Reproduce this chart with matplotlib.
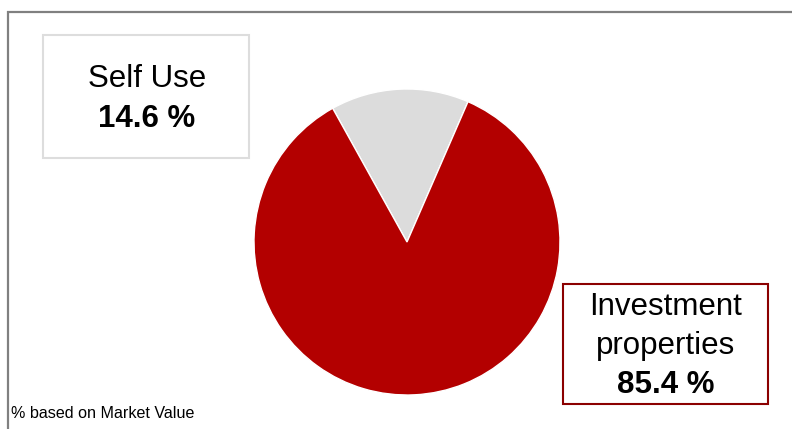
import matplotlib.pyplot as plt
from matplotlib.patches import Rectangle
from matplotlib.lines import Line2D

labels = ["Self Use", "Investment", "properties"]
shares = [14.6, 85.4]
colors = ["#dcdcdc", "#b30000"]
footnote = "% based on Market Value"

W, H = 792, 429
fig = plt.figure(figsize=(W / 100, H / 100), dpi=100)
plt.rcParams["font.family"] = ["Liberation Sans", "DejaVu Sans"]


def fx(px):
    return px / W


def fy(py):
    return 1 - py / H


# outer frame (top and left edges visible)
fig.add_artist(Line2D([fx(7.5), fx(7.5)], [fy(11), 0], color="#808080", lw=1.6,
                      solid_capstyle="butt"))
fig.add_artist(Line2D([fx(7), 1], [fy(11.5), fy(11.5)], color="#808080", lw=1.6,
                      solid_capstyle="butt"))

# pie
cx, cy, r = 407, 242, 153
ax = fig.add_axes([fx(cx - r), fy(cy + r), 2 * r / W, 2 * r / H])
ax.pie(shares, colors=colors, startangle=66.5, counterclock=True,
       wedgeprops=dict(edgecolor="white", linewidth=1))
ax.set_xlim(-1, 1)
ax.set_ylim(-1, 1)
ax.set_aspect("auto")
ax.axis("off")

fs = 22.5
# label boxes
fig.add_artist(Rectangle((fx(43), fy(158)), fx(249 - 43), (158 - 35) / H,
                         fill=False, edgecolor="#dddddd", lw=1.5))
fig.text(fx(147), fy(79), labels[0], ha="center", va="center", fontsize=fs)
fig.text(fx(147), fy(119), f"{shares[0]} %", ha="center", va="center",
         fontsize=fs, fontweight="bold")

fig.add_artist(Rectangle((fx(563), fy(404)), fx(768 - 563), (404 - 284) / H,
                         fill=False, edgecolor="#8b0000", lw=1.5))
fig.text(fx(666), fy(307), labels[1], ha="center", va="center", fontsize=fs)
fig.text(fx(666), fy(346), labels[2], ha="center", va="center", fontsize=fs)
fig.text(fx(666), fy(385), f"{shares[1]} %", ha="center", va="center",
         fontsize=fs, fontweight="bold")

fig.text(fx(11), fy(414), footnote, ha="left", va="center", fontsize=11.6)

fig.savefig("out.png", dpi=100)
